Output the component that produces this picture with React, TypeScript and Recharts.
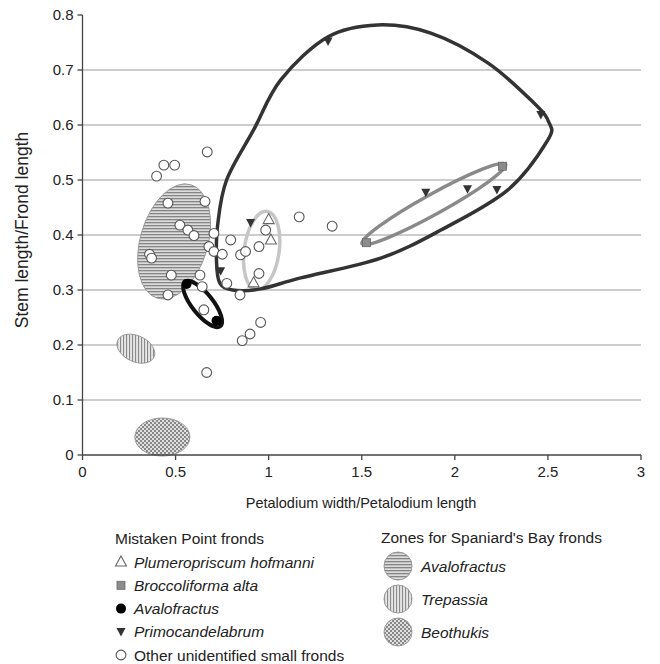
import * as Recharts from "recharts";
import { CartesianGrid, Customized, Scatter, ScatterChart, XAxis, YAxis } from "recharts";

const R: any = Recharts;

const X_DOMAIN = [0, 3];
const Y_DOMAIN = [0, 0.8];
const X_TICKS = [0, 0.5, 1, 1.5, 2, 2.5, 3];
const Y_TICKS = [0, 0.1, 0.2, 0.3, 0.4, 0.5, 0.6, 0.7, 0.8];
const GRID_Y = [0.1, 0.2, 0.3, 0.4, 0.5, 0.6, 0.7];

// Mistaken Point fronds
const plumeropriscum = [
  { x: 1.0, y: 0.428 },
  { x: 1.012, y: 0.391 },
  { x: 0.919, y: 0.313 },
];
const broccoliforma = [
  { x: 1.525, y: 0.386 },
  { x: 2.256, y: 0.525 },
];
const avalofractus = [
  { x: 0.559, y: 0.311 },
  { x: 0.72, y: 0.244 },
];
const primocandelabrum = [
  { x: 0.903, y: 0.422 },
  { x: 0.742, y: 0.334 },
  { x: 1.319, y: 0.752 },
  { x: 1.844, y: 0.477 },
  { x: 2.068, y: 0.483 },
  { x: 2.226, y: 0.482 },
  { x: 2.462, y: 0.618 },
];
const otherFronds = [
  { x: 0.67, y: 0.551 }, { x: 0.437, y: 0.527 }, { x: 0.495, y: 0.527 },
  { x: 0.398, y: 0.507 }, { x: 0.459, y: 0.458 }, { x: 0.658, y: 0.461 },
  { x: 0.523, y: 0.418 }, { x: 0.566, y: 0.409 }, { x: 0.599, y: 0.399 },
  { x: 0.706, y: 0.403 }, { x: 0.796, y: 0.391 }, { x: 0.679, y: 0.379 },
  { x: 0.706, y: 0.37 }, { x: 0.751, y: 0.365 }, { x: 0.849, y: 0.364 },
  { x: 0.876, y: 0.37 }, { x: 0.948, y: 0.379 }, { x: 0.984, y: 0.409 },
  { x: 0.948, y: 0.33 }, { x: 0.36, y: 0.365 }, { x: 0.371, y: 0.358 },
  { x: 0.477, y: 0.327 }, { x: 0.631, y: 0.327 }, { x: 0.643, y: 0.306 },
  { x: 0.459, y: 0.291 }, { x: 0.775, y: 0.312 }, { x: 0.846, y: 0.291 },
  { x: 0.652, y: 0.264 }, { x: 0.957, y: 0.241 }, { x: 0.9, y: 0.22 },
  { x: 0.858, y: 0.208 }, { x: 0.667, y: 0.15 }, { x: 1.164, y: 0.433 },
  { x: 1.341, y: 0.416 },
];

// outline round the Primocandelabrum points
const primoEnvelope = [
  [0.72, 0.351], [0.726, 0.418], [0.774, 0.5], [0.919, 0.591], [1.065, 0.682],
  [1.317, 0.76], [1.586, 0.782], [1.871, 0.767], [2.177, 0.713], [2.425, 0.64],
  [2.505, 0.605], [2.5, 0.573], [2.285, 0.482], [1.925, 0.409], [1.602, 0.358],
  [1.172, 0.322], [0.957, 0.302], [0.806, 0.3], [0.737, 0.313],
];

// rings: centre, end of long axis, end of short axis
const avaloRing = { c: [0.645, 0.2745], a: [0.74, 0.2342], b: [0.689, 0.2864] };
const plumeroRing = { c: [0.9624, 0.3718], a: [0.9919, 0.4429], b: [1.0554, 0.3675] };
const broccoRing = { c: [1.887, 0.4564], a: [2.273, 0.5287], b: [1.913, 0.4404] };

// Spaniard's Bay zones
const zoneAvalofractus = { c: [0.492, 0.3882], a: [0.582, 0.4915], b: [0.671, 0.3764] };
const zoneTrepassia = { c: [0.2866, 0.1933], a: [0.3839, 0.1778], b: [0.3161, 0.2147] };
const zoneBeothukis = { c: [0.429, 0.0327], a: [0.577, 0.0327], b: [0.429, 0.0673] };

const FONT = "'Liberation Sans', Arial, sans-serif";
const PLOT = { x: 82.5, y: 15, width: 558.5, height: 440 };

function toFn(s: any) {
  if (typeof s === "function") return (v: number) => Number(s(v));
  if (s && typeof s.map === "function") return (v: number) => Number(s.map(v));
  return null;
}

function useScales(props: any) {
  const xs = R.useXAxisScale ? R.useXAxisScale() : null;
  const ys = R.useYAxisScale ? R.useYAxisScale() : null;
  const area = R.usePlotArea ? R.usePlotArea() : null;
  let fx = toFn(xs);
  let fy = toFn(ys);
  if (!fx || !fy) {
    const xa: any = props?.xAxisMap ? Object.values(props.xAxisMap)[0] : null;
    const ya: any = props?.yAxisMap ? Object.values(props.yAxisMap)[0] : null;
    if (xa?.scale && ya?.scale) {
      fx = toFn(xa.scale);
      fy = toFn(ya.scale);
    }
  }
  if (!fx || !fy) {
    const p = area && area.width ? area : PLOT;
    fx = (v: number) => p.x + ((v - X_DOMAIN[0]) / (X_DOMAIN[1] - X_DOMAIN[0])) * p.width;
    fy = (v: number) => p.y + p.height - ((v - Y_DOMAIN[0]) / (Y_DOMAIN[1] - Y_DOMAIN[0])) * p.height;
  }
  return { fx, fy };
}

function ellipsePath(e: any, fx: any, fy: any) {
  const cx = fx(e.c[0]);
  const cy = fy(e.c[1]);
  const ux = fx(e.a[0]) - cx;
  const uy = fy(e.a[1]) - cy;
  const vx = fx(e.b[0]) - cx;
  const vy = fy(e.b[1]) - cy;
  const rx = Math.hypot(ux, uy);
  const ry = Math.abs(ux * vy - uy * vx) / rx;
  const deg = (Math.atan2(uy, ux) * 180) / Math.PI;
  return `M${cx - ux},${cy - uy} A${rx},${ry} ${deg} 0 1 ${cx + ux},${cy + uy} A${rx},${ry} ${deg} 0 1 ${cx - ux},${cy - uy} Z`;
}

function closedCurve(pts: number[][]) {
  const n = pts.length;
  let d = `M${pts[0][0]},${pts[0][1]}`;
  for (let i = 0; i < n; i++) {
    const p0 = pts[(i - 1 + n) % n];
    const p1 = pts[i];
    const p2 = pts[(i + 1) % n];
    const p3 = pts[(i + 2) % n];
    const c1 = [p1[0] + (p2[0] - p0[0]) / 6, p1[1] + (p2[1] - p0[1]) / 6];
    const c2 = [p2[0] - (p3[0] - p1[0]) / 6, p2[1] - (p3[1] - p1[1]) / 6];
    d += ` C${c1[0]},${c1[1]} ${c2[0]},${c2[1]} ${p2[0]},${p2[1]}`;
  }
  return d + " Z";
}

function Patterns({ prefix }: { prefix: string }) {
  return (
    <defs>
      <pattern id={`${prefix}-h`} width="6" height="3" patternUnits="userSpaceOnUse">
        <rect width="6" height="3" fill="#dcdcdc" />
        <rect width="6" height="1.3" fill="#858585" />
      </pattern>
      <pattern id={`${prefix}-v`} width="3" height="6" patternUnits="userSpaceOnUse">
        <rect width="3" height="6" fill="#e6e6e6" />
        <rect width="1.1" height="6" fill="#8a8a8a" />
      </pattern>
      <pattern id={`${prefix}-c`} width="4" height="4" patternUnits="userSpaceOnUse">
        <rect width="4" height="4" fill="#e0e0e0" />
        <rect width="2" height="2" fill="#888" />
        <rect x="2" y="2" width="2" height="2" fill="#888" />
      </pattern>
    </defs>
  );
}

function Zones(props: any) {
  const { fx, fy } = useScales(props);
  const env = primoEnvelope.map(([x, y]) => [fx(x), fy(y)]);
  return (
    <g>
      <Patterns prefix="plot" />
      <path d={ellipsePath(zoneAvalofractus, fx, fy)} fill="url(#plot-h)" stroke="#999" strokeWidth={1} />
      <path d={ellipsePath(zoneTrepassia, fx, fy)} fill="url(#plot-v)" stroke="#999" strokeWidth={1} />
      <path d={ellipsePath(zoneBeothukis, fx, fy)} fill="url(#plot-c)" stroke="#999" strokeWidth={1} />
      <path d={ellipsePath(plumeroRing, fx, fy)} fill="none" stroke="#c6c6c6" strokeWidth={3.5} />
      <path d={ellipsePath(broccoRing, fx, fy)} fill="none" stroke="#8a8a8a" strokeWidth={3.5} />
      <path d={ellipsePath(avaloRing, fx, fy)} fill="none" stroke="#111" strokeWidth={4} />
      <path d={closedCurve(env)} fill="none" stroke="#333" strokeWidth={3.5} />
    </g>
  );
}

const openCircle = (p: any) => (
  <circle cx={p.cx} cy={p.cy} r={4.9} fill="#fff" stroke="#555" strokeWidth={1.1} />
);
const openTriangle = (p: any) => (
  <path d={`M${p.cx},${p.cy - 6} L${p.cx + 5.5},${p.cy + 4} L${p.cx - 5.5},${p.cy + 4} Z`} fill="#fff" stroke="#666" strokeWidth={1.1} />
);
const greySquare = (p: any) => (
  <rect x={p.cx - 4} y={p.cy - 4} width={8} height={8} fill="#8c8c8c" stroke="#666" strokeWidth={0.8} />
);
const blackDot = (p: any) => <circle cx={p.cx} cy={p.cy} r={5} fill="#000" />;
const downTriangle = (p: any) => (
  <path d={`M${p.cx - 4.5},${p.cy - 4} L${p.cx + 4.5},${p.cy - 4} L${p.cx},${p.cy + 4.5} Z`} fill="#333" />
);

function Legend() {
  const t = { fontFamily: FONT, fontSize: 15.5, fill: "#222" };
  const items: [string, any][] = [
    ["Plumeropriscum hofmanni", openTriangle],
    ["Broccoliforma alta", greySquare],
    ["Avalofractus", blackDot],
    ["Primocandelabrum", downTriangle],
  ];
  const zones = [
    ["Avalofractus", "leg-h"],
    ["Trepassia", "leg-v"],
    ["Beothukis", "leg-c"],
  ];
  return (
    <svg width={660} height={664} style={{ position: "absolute", left: 0, top: 0, pointerEvents: "none" }}>
      <Patterns prefix="leg" />
      <text x={115} y={538} dominantBaseline="central" {...t}>Mistaken Point fronds</text>
      {items.map(([label, shape], i) => (
        <g key={label}>
          {shape({ cx: 121, cy: 562 + i * 23.3 })}
          <text x={134} y={562 + i * 23.3} dominantBaseline="central" fontStyle="italic" {...t}>{label}</text>
        </g>
      ))}
      {openCircle({ cx: 121, cy: 655 })}
      <text x={134} y={655} dominantBaseline="central" {...t}>Other unidentified small fronds</text>
      <text x={381} y={537} dominantBaseline="central" {...t}>Zones for Spaniard's Bay fronds</text>
      {zones.map(([label, pat], i) => (
        <g key={label}>
          <circle cx={398} cy={566 + i * 33} r={14} fill={`url(#${pat})`} stroke="#999" strokeWidth={1} />
          <text x={421} y={566 + i * 33} dominantBaseline="central" fontStyle="italic" {...t}>{label}</text>
        </g>
      ))}
    </svg>
  );
}

export default function App() {
  const tick = { fontFamily: FONT, fontSize: 15, fill: "#222" };
  return (
    <div style={{ position: "absolute", left: 0, top: 0, width: 660, height: 664, background: "#fff" }}>
      <ScatterChart width={660} height={664} margin={{ top: 15, right: 19, bottom: 169, left: 22.5 }}>
        <CartesianGrid horizontal vertical={false} horizontalValues={GRID_Y} stroke="#9c9c9c" strokeWidth={1.2} />
        <XAxis
          type="number"
          dataKey="x"
          domain={X_DOMAIN}
          ticks={X_TICKS}
          height={40}
          tick={tick}
          tickSize={5}
          tickMargin={6}
          stroke="#444"
          strokeWidth={1.3}
          allowDataOverflow
        />
        <YAxis
          type="number"
          dataKey="y"
          domain={Y_DOMAIN}
          ticks={Y_TICKS}
          width={60}
          tick={tick}
          tickSize={5}
          tickMargin={4}
          stroke="#444"
          strokeWidth={1.3}
          allowDataOverflow
        />
        <Customized component={Zones} />
        <Scatter data={otherFronds} shape={openCircle} isAnimationActive={false} />
        <Scatter data={plumeropriscum} shape={openTriangle} isAnimationActive={false} />
        <Scatter data={broccoliforma} shape={greySquare} isAnimationActive={false} />
        <Scatter data={avalofractus} shape={blackDot} isAnimationActive={false} />
        <Scatter data={primocandelabrum} shape={downTriangle} isAnimationActive={false} />
        <text x={361} y={503} textAnchor="middle" dominantBaseline="central" fontFamily={FONT} fontSize={14.5} fill="#222">
          Petalodium width/Petalodium length
        </text>
        <text
          x={22}
          y={230}
          textAnchor="middle"
          dominantBaseline="central"
          fontFamily={FONT}
          fontSize={17.5}
          fill="#222"
          transform="rotate(-90 22 230)"
        >
          Stem length/Frond length
        </text>
      </ScatterChart>
      <Legend />
    </div>
  );
}
